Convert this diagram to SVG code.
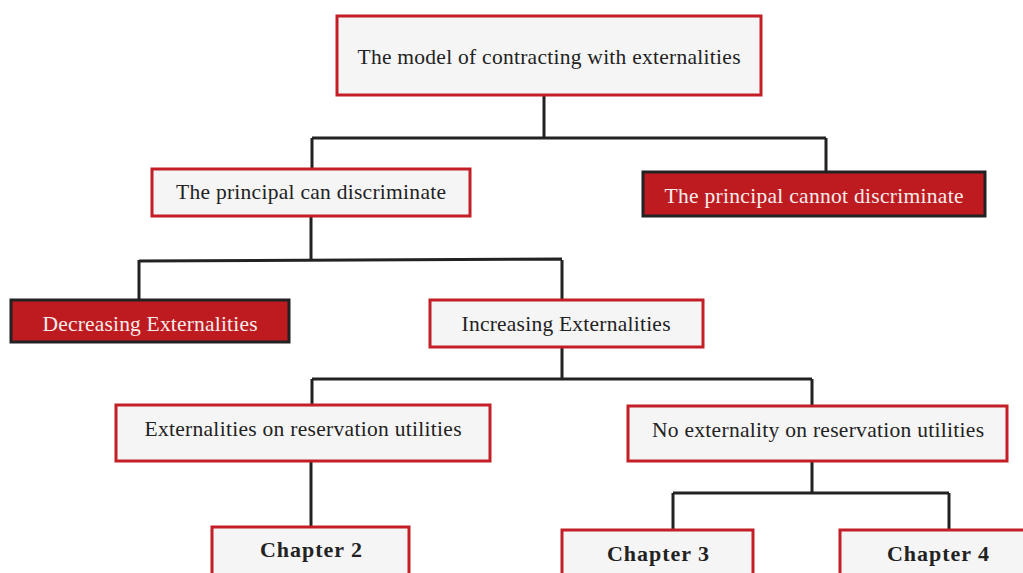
<svg xmlns="http://www.w3.org/2000/svg" width="1023" height="573" viewBox="0 0 1023 573">
<style>
.light{fill:#f5f5f5;stroke:#c41e26;stroke-width:3}
.dark{fill:#be1b20;stroke:#222;stroke-width:3}
.t{font-family:"Liberation Serif","DejaVu Serif",serif;font-size:21.5px;fill:#222;text-anchor:middle}
.w{fill:#f7ecec}
.b{font-weight:bold;font-size:22px}
.c{fill:none;stroke:#222;stroke-width:3}
</style>
<rect width="1023" height="573" fill="#fff"/>
<g id="connectors" class="c">
<path d="M544,95 V138 M312,138 H826 M312,138 V169 M826,138 V172"/>
<path d="M311,216 V260 M139,261 L562,259 M139,260 V300 M562,260 V300"/>
<path d="M562,347 V379 M312,379 H812 M312,379 V405 M812,379 V406"/>
<path d="M311,461 V527"/>
<path d="M812,461 V493 M673,493 H949 M673,493 V530 M949,493 V530"/>
</g>
<g id="root"><rect class="light" x="337" y="16" width="424" height="79"/><text class="t" x="549" y="64" textLength="383">The model of contracting with externalities</text></g>
<g id="can"><rect class="light" x="152" y="169" width="318" height="47"/><text class="t" x="311" y="199" textLength="270">The principal can discriminate</text></g>
<g id="cannot"><rect class="dark" x="643" y="172" width="342" height="44"/><text class="t w" x="814" y="203" textLength="299">The principal cannot discriminate</text></g>
<g id="decreasing"><rect class="dark" x="11" y="300" width="278" height="42"/><text class="t w" x="150" y="331" textLength="215">Decreasing Externalities</text></g>
<g id="increasing"><rect class="light" x="430" y="300" width="273" height="47"/><text class="t" x="566" y="331" textLength="209">Increasing Externalities</text></g>
<g id="ext-res"><rect class="light" x="116" y="405" width="374" height="56"/><text class="t" x="303" y="436" textLength="317">Externalities on reservation utilities</text></g>
<g id="no-ext"><rect class="light" x="628" y="406" width="379" height="55"/><text class="t" x="818" y="437" textLength="332">No externality on reservation utilities</text></g>
<g id="ch2"><rect class="light" x="212" y="527" width="197" height="60"/><text class="t b" x="311" y="557" textLength="102">Chapter 2</text></g>
<g id="ch3"><rect class="light" x="562" y="530" width="191" height="60"/><text class="t b" x="658" y="561" textLength="102">Chapter 3</text></g>
<g id="ch4"><rect class="light" x="840" y="530" width="200" height="60"/><text class="t b" x="938" y="561" textLength="102">Chapter 4</text></g>
</svg>
